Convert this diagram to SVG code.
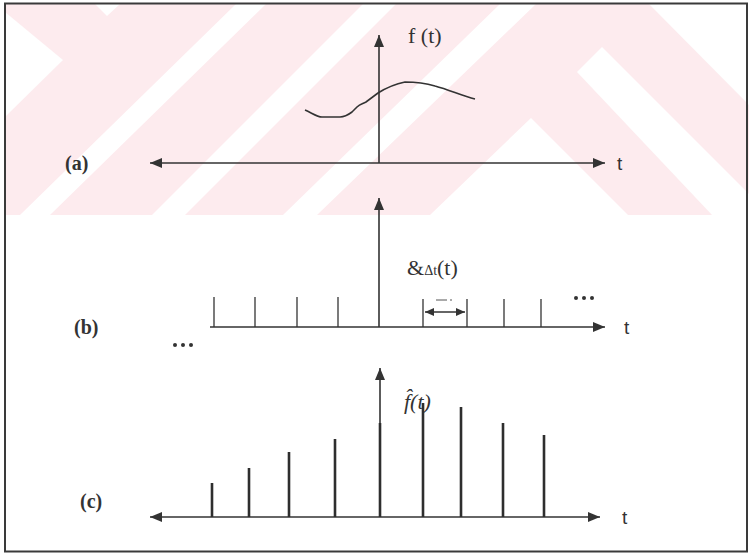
<svg xmlns="http://www.w3.org/2000/svg" width="749" height="554" viewBox="0 0 749 554">
<style>
.ax{stroke:#333;stroke-width:1.6;fill:none}
.tick{stroke:#333;stroke-width:1.3}
.stem{stroke:#2e2e2e;stroke-width:2.6}
.lbl{font-family:"Liberation Serif",serif;font-weight:bold;font-size:20px;fill:#333}
.tl{font-family:"Liberation Sans",sans-serif;font-size:19px;fill:#333}
.ser{font-family:"Liberation Serif",serif;font-size:22px;fill:#333}
.wm{fill:#fff}
.dot{fill:#333}
</style>
<defs>
<marker id="ah" viewBox="0 0 12 10" refX="12" refY="5" markerWidth="12" markerHeight="10" markerUnits="userSpaceOnUse" orient="auto-start-reverse"><path d="M0,0 L12,5 L0,10 z" fill="#333"/></marker>
<marker id="ahs" viewBox="0 0 9 8" refX="9" refY="4" markerWidth="9" markerHeight="8" markerUnits="userSpaceOnUse" orient="auto-start-reverse"><path d="M0,0 L9,4 L0,8 z" fill="#333"/></marker>
</defs>
<rect x="0" y="0" width="749" height="554" fill="#fff"/>
<g id="watermark">
<rect x="5" y="4" width="744" height="211" fill="#fdebee"/>
<polygon class="wm" points="5,12 63,60 5,117"/>
<polygon class="wm" points="95,4 120,4 107,16"/>
<polygon class="wm" points="20,215 50,215 266,4 236,4"/>
<polygon class="wm" points="152,215 185,215 396,4 363,4"/>
<polygon class="wm" points="283,215 317,215 536,4 500,4"/>
<polygon class="wm" points="430,215 531,118 628,215"/>
<polygon class="wm" points="577,72 602,47 749,194 749,215 712,215"/>
<polygon class="wm" points="649,4 749,4 749,105"/>
</g>
<rect id="frame" x="5" y="3.5" width="742" height="548" fill="none" stroke="#3a3a3a" stroke-width="2"/>
<g id="connectors">
<line class="ax" x1="150" y1="163" x2="605" y2="163" marker-start="url(#ah)" marker-end="url(#ah)"/>
<line class="ax" x1="379" y1="163" x2="379" y2="35" marker-end="url(#ah)"/>
<line class="ax" x1="210" y1="327" x2="605" y2="327" marker-end="url(#ah)"/>
<line class="ax" x1="379" y1="327" x2="379" y2="198" marker-end="url(#ah)"/>
<line class="ax" x1="150" y1="517" x2="600" y2="517" marker-start="url(#ah)" marker-end="url(#ah)"/>
<line class="ax" x1="380" y1="517" x2="380" y2="368" marker-end="url(#ah)"/>
</g>
<g id="panel-a">
<text class="lbl" x="65" y="170">(a)</text>
<text class="ser" x="408" y="43">f (t)</text>
<text class="tl" x="617" y="170">t</text>
<path class="ax" d="M305,110 C312,113 317,117 322,117 L340,117 C345,117 348,115 352,112 L357,107 C360,104 362,104 366,102 C370,99 374,96 378,93 C386,88 395,84 405,82 C415,82 425,83 435,86 C450,90 462,96 475,99"/>
</g>
<g id="panel-b">
<text class="lbl" x="74" y="334">(b)</text>
<text class="tl" x="624" y="334">t</text>
<g id="ticks">
<line class="tick" x1="214" y1="297" x2="214" y2="327"/>
<line class="tick" x1="255" y1="297" x2="255" y2="327"/>
<line class="tick" x1="297" y1="297" x2="297" y2="327"/>
<line class="tick" x1="338" y1="297" x2="338" y2="327"/>
<line class="tick" x1="423" y1="299" x2="423" y2="327"/>
<line class="tick" x1="467" y1="299" x2="467" y2="327"/>
<line class="tick" x1="504" y1="299" x2="504" y2="327"/>
<line class="tick" x1="541" y1="299" x2="541" y2="327"/>
</g>
<line class="ax" x1="425" y1="312" x2="465" y2="312" stroke-width="1.4" marker-start="url(#ahs)" marker-end="url(#ahs)"/>
<line x1="436" y1="300" x2="447" y2="300" stroke="#555" stroke-width="1"/>
<line x1="450" y1="300" x2="452" y2="300" stroke="#555" stroke-width="1"/>
<text class="ser" x="407" y="275" font-size="21">&amp;<tspan font-size="14">Δt</tspan>(t)</text>
<circle class="dot" cx="576" cy="298" r="2"/>
<circle class="dot" cx="584" cy="298" r="2"/>
<circle class="dot" cx="592" cy="298" r="2"/>
<circle class="dot" cx="175" cy="345" r="2"/>
<circle class="dot" cx="183" cy="345" r="2"/>
<circle class="dot" cx="191" cy="345" r="2"/>
</g>
<g id="panel-c">
<text class="lbl" x="80" y="508">(c)</text>
<text class="tl" x="622" y="524">t</text>
<text class="ser" x="404" y="409" font-style="italic" font-size="25">f̂(t)</text>
<line class="stem" x1="212" y1="483" x2="212" y2="517"/>
<line class="stem" x1="249" y1="468" x2="249" y2="517"/>
<line class="stem" x1="289" y1="452" x2="289" y2="517"/>
<line class="stem" x1="335" y1="439" x2="335" y2="517"/>
<line class="stem" x1="380" y1="423" x2="380" y2="517"/>
<line class="stem" x1="423" y1="403" x2="423" y2="517"/>
<line class="stem" x1="461" y1="407" x2="461" y2="517"/>
<line class="stem" x1="503" y1="423" x2="503" y2="517"/>
<line class="stem" x1="544" y1="435" x2="544" y2="517"/>
</g>
</svg>
